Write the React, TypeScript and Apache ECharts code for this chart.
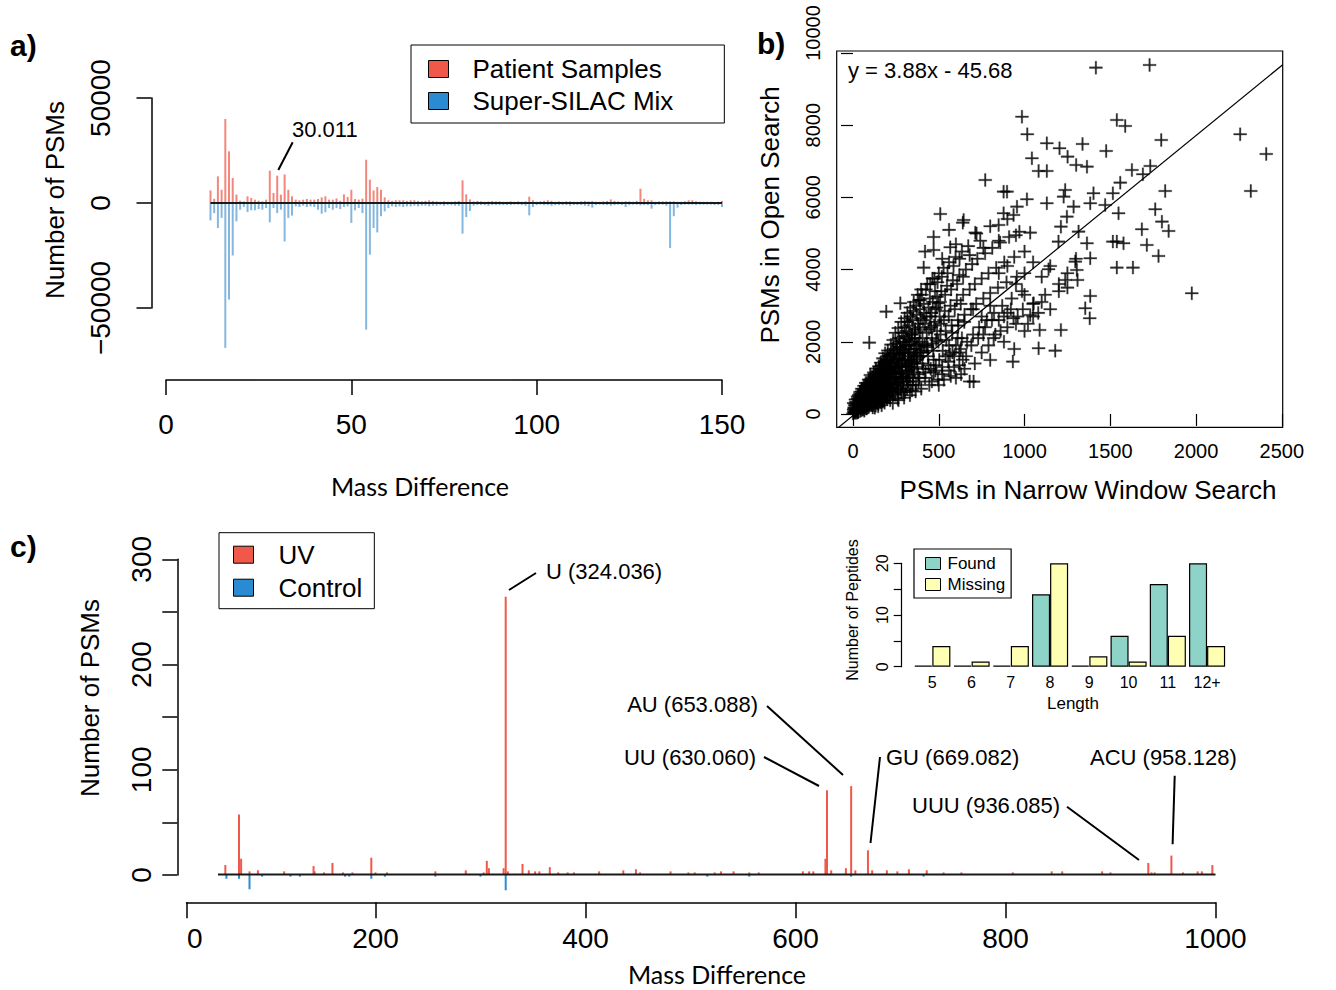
import React, { useEffect, useRef } from 'react';
import * as echarts from 'echarts';

const RED = '#F0584A';
const BLUE = '#2A8AD2';
const RED_LIGHT = '#F4877C';
const BLUE_LIGHT = '#85B7DE';
const TEAL = '#8DD3C7';
const YELLOW = '#FFFFB3';
const FONT = '"Liberation Sans", Arial, Helvetica, sans-serif';
const ALT_FONT = 'Lato, "Open Sans", sans-serif';

// ---------- Panel a: mass difference histogram (integer bins 12..150) ----------
const aFirstMass = 12;
const aPatient = [
  6000, 2000, 12700, 6300, 40000, 24600, 11900, 4000, 1100, 800,
  3200, 2400, 1600, 1100, 800, 1600, 15400, 4800, 13000, 4000,
  13600, 6300, 3200, 1600, 1300, 1600, 1900, 1600, 1600, 1900,
  2700, 3200, 1600, 1600, 2200, 1100, 4100, 2900, 6300, 1900,
  1600, 2100, 20600, 11100, 6000, 7600, 6300, 2700, 1300, 1000,
  1300, 1300, 1300, 1000, 1300, 1300, 1000, 800, 1000, 1300,
  1000, 800, 600, 800, 600, 600, 800, 1000, 10800, 4100,
  1700, 800, 1000, 800, 600, 800, 1000, 800, 800, 600,
  600, 800, 600, 800, 600, 800, 3000, 1300, 600, 800,
  1000, 1300, 1000, 600, 800, 600, 800, 800, 600, 600,
  800, 1000, 800, 1000, 600, 600, 800, 1000, 1700, 1000,
  800, 600, 800, 800, 600, 1000, 6800, 2000, 1300, 1300,
  600, 800, 800, 800, 800, 800, 600, 600, 800, 1300,
  1300, 800, 600, 600, 600, 600, 400, 600, 1000,
];
const aSilac = [
  -8300, -4800, -11900, -7100, -69000, -46000, -25000, -8700, -3200, -1900,
  -4300, -3500, -3500, -2900, -3200, -2400, -9200, -2400, -4800, -3200,
  -18300, -7100, -6000, -1600, -1900, -1300, -1900, -1600, -1900, -3200,
  -5100, -4400, -2400, -3200, -2400, -2900, -1900, -1600, -9500, -3500,
  -2400, -4800, -60300, -24600, -11900, -14000, -6300, -4000, -2400, -1600,
  -1900, -1600, -1900, -1600, -1600, -1300, -1600, -1300, -1300, -1600,
  -1300, -1300, -1000, -1300, -1000, -1000, -1300, -1300, -14600, -6700,
  -3800, -1300, -1000, -1000, -1000, -1300, -1000, -1000, -1000, -1000,
  -1000, -1000, -800, -800, -1000, -1300, -5900, -1900, -1000, -800,
  -1000, -1000, -1300, -1000, -1000, -1000, -1000, -1300, -1000, -1000,
  -1000, -1300, -1600, -2200, -1000, -800, -1000, -1000, -1300, -1000,
  -800, -1000, -1900, -1000, -800, -800, -1100, -1000, -1000, -2700,
  -1000, -800, -800, -1300, -21400, -6300, -2200, -1000, -800, -800,
  -800, -1000, -800, -800, -800, -800, -1000, -1000, -1900,
];
const aYTicks = [-50000, 0, 50000];
const aXTicks = [0, 50, 100, 150];

// ---------- Panel b: PSMs narrow vs open search ----------
const bFitSlope = 3.88;
const bFitIntercept = -45.68;
const bXTicks = [0, 500, 1000, 1500, 2000, 2500];
const bYTicks = [0, 2000, 4000, 6000, 8000, 10000];
const bPoints = [
  [0, 10], [5, 60], [8, 150], [12, 30], [15, 220], [18, 90], [22, 300], [25, 140], [28, 40], [32, 260],
  [35, 380], [38, 180], [42, 80], [45, 330], [48, 470], [52, 230], [55, 130], [58, 400], [62, 560], [65, 290],
  [68, 180], [72, 460], [75, 640], [78, 350], [82, 230], [85, 520], [88, 720], [92, 410], [95, 280], [98, 600],
  [102, 820], [105, 470], [108, 330], [112, 680], [115, 180], [118, 900], [122, 540], [125, 380], [128, 760], [132, 230],
  [135, 1000], [138, 620], [142, 430], [145, 850], [148, 280], [152, 1100], [155, 700], [158, 480], [162, 950], [165, 330],
  [168, 1250], [172, 780], [175, 540], [178, 1050], [182, 380], [185, 1380], [188, 860], [192, 600], [195, 1150], [198, 430],
  [202, 1500], [205, 950], [208, 660], [212, 1250], [215, 480], [218, 1650], [222, 1030], [225, 720], [228, 1350], [232, 300],
  [235, 1800], [238, 1120], [242, 800], [245, 1450], [248, 530], [252, 1950], [255, 1200], [258, 870], [262, 1550], [265, 380],
  [268, 2100], [272, 1300], [275, 950], [278, 1680], [282, 600], [285, 2250], [288, 1400], [292, 1030], [295, 1800], [298, 450],
  [302, 2400], [305, 1500], [308, 1100], [312, 1900], [315, 700], [318, 2550], [322, 1600], [325, 1200], [328, 2050], [332, 520],
  [335, 2700], [338, 1700], [342, 1300], [345, 2200], [348, 800], [352, 2850], [355, 1800], [358, 1400], [362, 2350], [365, 620],
  [368, 3000], [372, 1900], [375, 1500], [378, 2500], [382, 900], [385, 3150], [388, 2000], [392, 1600], [395, 2650], [398, 700],
  [402, 3300], [405, 2100], [410, 1700], [415, 2800], [420, 1000], [425, 3450], [430, 2250], [435, 1850], [440, 2950], [445, 800],
  [450, 3600], [455, 2400], [460, 1950], [465, 3100], [470, 1150], [475, 3750], [480, 2550], [485, 2050], [490, 3250], [495, 950],
  [500, 3900], [505, 2700], [510, 2200], [515, 3400], [520, 1300], [528, 4050], [535, 2850], [540, 2300], [548, 3550], [555, 1450],
  [560, 4200], [568, 3000], [575, 2450], [582, 3700], [590, 1600], [598, 4350], [605, 3150], [612, 2600], [620, 3850], [628, 1800],
  [635, 4500], [642, 3300], [650, 2750], [658, 4000], [665, 2000], [672, 4650], [680, 3450], [688, 2900], [695, 4150], [700, 2200],
  [710, 3600], [718, 3050], [725, 4300], [735, 2400], [742, 4800], [750, 3750], [760, 3200], [770, 4450], [780, 2600], [790, 3900],
  [800, 3350], [812, 4600], [822, 2800], [835, 4050], [845, 3500], [858, 4750], [870, 3000], [882, 4200], [895, 3650], [910, 4900],
  [925, 3200], [940, 4350], [955, 3800], [970, 5050], [985, 3400], [1000, 4500],
  [3, 120], [10, 250], [20, 30], [30, 200], [40, 350], [50, 100], [60, 420], [70, 300], [80, 150], [90, 500],
  [100, 380], [110, 250], [120, 650], [130, 480], [140, 320], [150, 800], [160, 600], [170, 420], [180, 950], [190, 720],
  [200, 500], [210, 1100], [220, 850], [230, 600], [240, 1300], [250, 1000], [260, 700], [270, 1500], [280, 1150], [290, 800],
  [300, 1700], [310, 1300], [320, 900], [330, 1900], [340, 1450], [350, 1000], [360, 2100], [370, 1600], [380, 1100], [390, 2300],
  [400, 1750], [410, 1250], [420, 2500], [430, 1900], [440, 1350], [450, 2700], [460, 2100], [470, 1500], [480, 2900], [490, 2300],
  [7, 180], [13, 95], [17, 340], [21, 160], [26, 420], [29, 75], [33, 520], [37, 250], [41, 610], [44, 190],
  [47, 380], [51, 700], [54, 290], [57, 560], [61, 130], [64, 780], [67, 420], [71, 230], [74, 860], [77, 530],
  [81, 310], [84, 690], [87, 180], [91, 950], [94, 600], [97, 400], [101, 1080], [104, 720], [107, 250], [111, 880],
  [114, 560], [117, 350], [121, 1150], [124, 830], [127, 170], [131, 640], [134, 1260], [137, 460], [141, 980], [144, 730],
  [147, 210], [151, 1320], [154, 560], [157, 900], [161, 1420], [164, 1080], [167, 240], [171, 680], [174, 1540], [177, 940],
  [181, 1230], [184, 310], [187, 1680], [191, 820], [194, 1040], [197, 1480],
  [203, 1760], [207, 1310], [211, 820], [214, 1590], [217, 380], [221, 1920], [224, 1170], [227, 1400], [231, 640], [234, 2050],
  [237, 980], [241, 1700], [244, 1260], [247, 2250], [251, 760], [254, 1520], [257, 1860], [261, 420], [264, 2380], [267, 1130],
  [271, 1640], [274, 2000], [277, 700], [281, 2550], [284, 1330], [287, 1780], [291, 900], [294, 2150], [297, 1480], [301, 2650],
  [304, 600], [307, 1900], [311, 2300], [314, 1200], [317, 2800], [321, 900], [324, 1700], [327, 2450], [331, 1050], [334, 2950],
  [337, 1400], [341, 2000], [344, 650], [347, 2600], [351, 1550], [354, 3100], [357, 1150], [361, 2250], [364, 1800], [367, 800],
  [371, 2750], [374, 1300], [377, 3300], [381, 1950], [384, 2400], [387, 1000], [391, 2900], [394, 1700], [397, 3450],
  [4, 300], [9, 40], [14, 400], [19, 260], [23, 120], [27, 480], [31, 60], [36, 300], [39, 550], [43, 160],
  [46, 260], [49, 620], [53, 380], [56, 200], [59, 690], [63, 340], [66, 90], [69, 560], [73, 760], [76, 150],
  [79, 420], [83, 820], [86, 350], [89, 600], [93, 200], [96, 880], [99, 500], [103, 300], [106, 960], [109, 620],
  [113, 420], [116, 1020], [119, 250], [123, 730], [126, 560], [129, 1100], [133, 380], [136, 800], [139, 300], [143, 1180],
  [146, 620], [149, 980], [153, 420], [156, 1250], [159, 760], [163, 560], [166, 1350], [169, 900], [173, 350], [176, 1200],
  [179, 640], [183, 1450], [186, 1000], [189, 480], [193, 1300], [196, 760], [199, 1600], [206, 1150], [213, 700], [219, 1420],
  [226, 900], [233, 1650], [239, 560], [246, 1100], [253, 1750], [259, 1300], [266, 850], [273, 1850], [279, 1000], [286, 1500],
  [293, 650], [299, 2000], [306, 1350], [313, 1000], [319, 2100], [326, 1500], [333, 800], [339, 2200], [346, 1250], [353, 1650],
  [404, 1400], [408, 2600], [413, 3050], [418, 1900], [423, 1150], [428, 2700], [433, 3600], [438, 1600], [443, 2350], [448, 3200],
  [453, 1250], [458, 2800], [463, 3750], [468, 1750], [473, 2450], [478, 3400], [483, 1350], [488, 2950], [493, 3650], [498, 2000],
  [503, 1500], [508, 3100], [513, 2500], [518, 3800], [523, 1750], [530, 2600], [537, 3300], [544, 2050], [551, 3900], [558, 2700],
  [565, 1650], [572, 3450], [579, 2250], [586, 4100], [593, 2900], [600, 1900], [607, 3600], [614, 2450], [621, 4300], [628, 3050],
  [635, 2100], [642, 3800], [649, 2550],
  [520, 1100], [540, 1600], [560, 1900], [590, 1300], [610, 2100], [630, 1100], [660, 1600], [690, 1900], [710, 1400], [730, 2100],
  [750, 1700], [770, 2400], [790, 1900], [810, 2600], [830, 2200], [860, 2300], [880, 2700], [900, 2400], [920, 2900], [960, 2700],
  [990, 2900], [1020, 2500], [1080, 2800], [1120, 3300], [460, 900], [480, 1200], [500, 800], [530, 950], [570, 1050], [620, 1700],
  [420, 4500], [470, 4900], [520, 4300], [560, 5100], [600, 4700], [640, 5300], [680, 4400], [720, 5000], [760, 4600], [800, 5200],
  [850, 4800], [900, 5400], [950, 4950], [850, 3900], [900, 4100], [950, 3600], [1000, 3900], [1050, 4200], [1100, 3800], [1150, 4100],
  [1200, 3600], [1250, 3900], [1300, 4300], [1000, 3300], [1100, 3100], [1150, 2900], [1050, 2700], [1200, 3400], [1250, 3500],
  [700, 2900], [750, 2700], [800, 3000], [850, 2600], [900, 2800], [950, 2500], [1000, 2300], [1050, 3050], [760, 2200], [820, 2100],
  [880, 2000], [940, 1800], [560, 1200], [600, 1000], [640, 1500], [680, 900], [620, 1350], [580, 1700], [650, 1250],
  [1416, 9594], [1729, 9668], [985, 8236], [1016, 7747], [1538, 8144], [1587, 7978], [2257, 7747], [1797, 7590], [1130, 7498], [1338, 7479],
  [1204, 7359], [1251, 7128], [1476, 7285], [1043, 7082], [1301, 6898], [1364, 6851], [1082, 6731], [1130, 6731], [2409, 7202], [1626, 6759],
  [1690, 6639], [1733, 6870], [1558, 6408], [771, 6482], [878, 6159], [898, 6159], [1014, 5946], [1130, 5836], [1237, 6205], [1228, 6020],
  [1402, 6113], [1515, 6113], [1820, 6177], [2319, 6177], [509, 5540], [645, 5374], [878, 5559], [956, 5743], [936, 5512], [1286, 5743],
  [1383, 5836], [1470, 5789], [1548, 5559], [1762, 5670], [1801, 5328], [1840, 5069], [1684, 5116], [1247, 5466], [1212, 5189], [1315, 5051],
  [1033, 5023], [1975, 3343], [1538, 4774], [1577, 4727], [1515, 4774], [1713, 4681], [1364, 4727], [1538, 4054], [1632, 4054], [1781, 4377],
  [1383, 4312], [1296, 4220], [1198, 4774], [1383, 3269], [1354, 2927], [1380, 2650], [1088, 2327], [1212, 2327], [1082, 1819], [1179, 1754],
  [932, 1450], [800, 1496], [703, 896], [95, 1976], [412, 4054], [470, 4543], [567, 4617], [713, 5023], [849, 5235], [194, 2835],
  [276, 3066], [392, 3158], [499, 3066], [1309, 3712], [1305, 3989], [1237, 3712], [1140, 4007], [1053, 3066], [1033, 2742], [936, 2650],
];

// ---------- Panel c: UV crosslink mass differences ----------
const cMassRange = [50, 1000];
const cUVMass = [
  57, 70, 72, 80, 88, 113, 141, 142, 151, 159, 169, 178, 196, 200, 211, 257, 286, 303, 306, 308,
  322, 324, 326, 340, 346, 352, 356, 366, 374, 383, 389, 413, 436, 448, 452, 481, 498, 504, 523, 529,
  541, 556, 565, 607, 613, 617, 628.5, 630, 634, 648, 653, 657, 669, 673, 687, 697, 708, 725, 741, 758,
  807, 844, 854, 892, 900, 936, 939, 942, 958, 969, 983, 987, 997,
];
const cUVCount = [
  9, 57, 15, 3, 4, 3, 8, 3, 2, 11, 2, 2, 16, 2, 2, 3, 4, 2, 13, 6,
  6, 264, 3, 10, 4, 3, 3, 7, 2, 2, 2, 3, 4, 5, 2, 3, 2, 2, 2, 3,
  3, 2, 2, 3, 3, 3, 15, 80, 4, 6, 84, 4, 23, 4, 4, 3, 5, 4, 2, 2,
  2, 3, 3, 3, 2, 11, 2, 2, 18, 2, 3, 3, 9,
];
const cCtrlMass = [58, 70, 80, 92, 119, 128, 171, 175, 196, 209, 257, 300, 324, 516, 556, 653, 722];
const cCtrlCount = [-4, -4, -14, -2, -2, -2, -2, -2, -4, -2, -2, -2, -15, -2, -2, -2, -2];
const cXTicks = [20, 200, 400, 600, 800, 1000];
const cXLabelAt = [28, 200, 400, 600, 800, 1000];

// ---------- Inset: peptide lengths ----------
const insetLengths = ['5', '6', '7', '8', '9', '10', '11', '12+'];
const insetFound = [0, 0, 0, 14, 0, 6, 16, 20];
const insetMissing = [4, 1, 4, 20, 2, 1, 6, 4];

const PLUS = 'path://M0,4.4H10V5.6H0Z M4.4,0H5.6V10H4.4Z';

const axLine = (w = 1.5) => ({ show: true, lineStyle: { color: '#000', width: w } });
const axTick = (len: number, w = 1.5, extra: any = {}) => ({ show: true, length: len, lineStyle: { color: '#000', width: w }, ...extra });
const hidden = (gridIndex: number, min: number, max: number) => ({ gridIndex, type: 'value', show: false, min, max });

const txt = (text: string, x: number, y: number, size: number, opts: any = {}) => ({
  type: 'text',
  x,
  y,
  rotation: opts.rot ? Math.PI / 2 : 0,
  z: 100,
  style: {
    text,
    fill: '#000',
    fontSize: size,
    fontFamily: opts.font || FONT,
    fontWeight: opts.bold ? 'bold' : 'normal',
    align: opts.align || 'center',
    verticalAlign: 'middle',
  },
});
const seg = (x1: number, y1: number, x2: number, y2: number) => ({
  type: 'line',
  z: 100,
  shape: { x1, y1, x2, y2 },
  style: { stroke: '#000', lineWidth: 2 },
});

export default function App() {
  const ref = useRef<HTMLDivElement>(null);
  useEffect(() => {
    if (!ref.current) return;
    const chart = echarts.init(ref.current, undefined, { renderer: 'svg' });
    const fit = (x: number) => bFitSlope * x + bFitIntercept;
    const option: any = {
      animation: false,
      backgroundColor: '#fff',
      textStyle: { fontFamily: FONT },
      grid: [
        { left: 166, top: 108.5, width: 556, height: 252 },
        { left: 151.5, top: 98, width: 10, height: 210 },
        { left: 166, top: 370, width: 556, height: 10 },
        { left: 836.7, top: 51, width: 446, height: 376.3, show: true, borderColor: '#000', borderWidth: 1.2, backgroundColor: 'transparent' },
        { left: 165.5, top: 558.8, width: 1050, height: 347.3 },
        { left: 177.3, top: 559.3, width: 10, height: 315.7 },
        { left: 186.5, top: 892.3, width: 1029, height: 10 },
        { left: 912.7, top: 563.3, width: 314, height: 103.4 },
        { left: 901.7, top: 563.3, width: 10, height: 103.4 },
      ],
      xAxis: [
        hidden(0, 0, 150),
        hidden(1, 0, 1),
        {
          gridIndex: 2, type: 'value', min: aXTicks[0], max: aXTicks[aXTicks.length - 1], interval: 50, position: 'bottom',
          axisLine: axLine(), axisTick: axTick(15), splitLine: { show: false },
          axisLabel: { fontSize: 28, color: '#000', margin: 30, fontFamily: FONT },
        },
        {
          gridIndex: 3, type: 'value', min: -95, max: 2505, axisLine: { show: false },
          axisTick: axTick(12, 1.2, { customValues: bXTicks }), splitLine: { show: false },
          axisLabel: { customValues: bXTicks, fontSize: 20, color: '#000', margin: 14, fontFamily: FONT, formatter: (v: number) => String(v) },
        },
        hidden(4, 0, 1000),
        hidden(5, 0, 1),
        {
          gridIndex: 6, type: 'value', min: 20, max: 1000, position: 'bottom',
          axisLine: axLine(), axisTick: axTick(16, 1.5, { customValues: cXTicks }), splitLine: { show: false },
          axisLabel: {
            customValues: cXLabelAt, fontSize: 28, color: '#000', margin: 22, fontFamily: FONT,
            formatter: (v: number) => (v < 100 ? '0' : String(v)),
          },
        },
        {
          gridIndex: 7, type: 'category', data: insetLengths,
          axisLine: { show: false }, axisTick: { show: false },
          axisLabel: { fontSize: 16, color: '#000', margin: 8, fontFamily: FONT, interval: 0 },
        },
        hidden(8, 0, 1),
      ],
      yAxis: [
        hidden(0, -75000, 45000),
        {
          gridIndex: 1, type: 'value', min: aYTicks[0], max: aYTicks[2], interval: 50000, position: 'left',
          axisLine: axLine(), axisTick: axTick(15), splitLine: { show: false },
          axisLabel: {
            rotate: 90, fontSize: 28, color: '#000', margin: 37, fontFamily: FONT,
            formatter: (v: number) => (v < 0 ? '\u2212' + Math.abs(v) : String(v)),
          },
        },
        hidden(2, 0, 1),
        {
          gridIndex: 3, type: 'value', min: -370, max: 10055, axisLine: { show: false },
          axisTick: axTick(12, 1.2, { customValues: bYTicks }), splitLine: { show: false },
          axisLabel: {
            customValues: bYTicks, rotate: 90, fontSize: 20, color: '#000', margin: 14, fontFamily: FONT,
            formatter: (v: number) => (v === 10000 ? '{top|10000}' : String(v)),
            rich: { top: { fontSize: 20, fontFamily: FONT, color: '#000', padding: [0, 0, 0, 40] } },
          },
        },
        hidden(4, -30, 300),
        {
          gridIndex: 5, type: 'value', min: 0, max: 300, interval: 50, position: 'left',
          axisLine: axLine(), axisTick: axTick(15), splitLine: { show: false },
          axisLabel: {
            rotate: 90, fontSize: 28, color: '#000', margin: 22, fontFamily: FONT,
            formatter: (v: number) => (v % 100 === 0 ? String(v) : ''),
          },
        },
        hidden(6, 0, 1),
        hidden(7, 0, 20),
        {
          gridIndex: 8, type: 'value', min: 0, max: 20, interval: 5, position: 'left',
          axisLine: axLine(1.2), axisTick: axTick(8, 1.2), splitLine: { show: false },
          axisLabel: {
            rotate: 90, fontSize: 16, color: '#000', margin: 11, fontFamily: FONT,
            formatter: (v: number) => (v % 10 === 0 ? String(v) : ''),
          },
        },
      ],
      legend: [
        {
          data: [
            { name: 'Patient Samples', itemStyle: { color: RED } },
            { name: 'Super-SILAC Mix', itemStyle: { color: BLUE } },
          ],
          left: 411, top: 45, orient: 'vertical', icon: 'rect', itemWidth: 20, itemHeight: 17, itemGap: 6,
          padding: [11, 51, 9, 17], borderColor: '#000', borderWidth: 1, selectedMode: false,
          itemStyle: { borderColor: '#000', borderWidth: 1 },
          textStyle: { fontSize: 26, color: '#000', fontFamily: FONT, padding: [0, 0, 0, 19] },
        },
        {
          data: [
            { name: 'UV', itemStyle: { color: RED } },
            { name: 'Control', itemStyle: { color: BLUE } },
          ],
          left: 219, top: 532.7, orient: 'vertical', icon: 'rect', itemWidth: 20, itemHeight: 17, itemGap: 7,
          padding: [9, 12, 8, 14], borderColor: '#000', borderWidth: 1, selectedMode: false,
          itemStyle: { borderColor: '#000', borderWidth: 1 },
          textStyle: { fontSize: 26, color: '#000', fontFamily: FONT, padding: [0, 0, 0, 20] },
        },
        {
          data: ['Found', 'Missing'],
          left: 914, top: 549, orient: 'vertical', icon: 'rect', itemWidth: 15, itemHeight: 12, itemGap: 4,
          padding: [6, 6, 5, 11], borderColor: '#000', borderWidth: 1.2, selectedMode: false,
          itemStyle: { borderColor: '#000', borderWidth: 1 },
          textStyle: { fontSize: 17, color: '#000', fontFamily: FONT, padding: [0, 0, 0, 2] },
        },
      ],
      series: [
        {
          name: 'Patient Samples', type: 'bar', xAxisIndex: 0, yAxisIndex: 0, barWidth: 2, barGap: '-100%',
          data: aPatient.map((v, i) => [aFirstMass + i, v]), itemStyle: { color: RED_LIGHT }, silent: true,
        },
        {
          name: 'Super-SILAC Mix', type: 'bar', xAxisIndex: 0, yAxisIndex: 0, barWidth: 2, barGap: '-100%',
          data: aSilac.map((v, i) => [aFirstMass + i, v]), itemStyle: { color: BLUE_LIGHT }, silent: true,
        },
        {
          type: 'line', xAxisIndex: 0, yAxisIndex: 0, symbol: 'none', z: 5, silent: true,
          data: [[aFirstMass, 0], [aFirstMass + aPatient.length - 1, 0]],
          lineStyle: { color: '#1a1a1a', width: 2 },
        },
        {
          name: 'PSMs', type: 'scatter', xAxisIndex: 3, yAxisIndex: 3, symbol: PLUS, symbolSize: 13,
          data: bPoints, itemStyle: { color: '#000', borderColor: '#000', borderWidth: 0.3 }, silent: true,
        },
        {
          type: 'line', xAxisIndex: 3, yAxisIndex: 3, symbol: 'none', clip: true, silent: true,
          data: [[-95, fit(-95)], [2505, fit(2505)]], lineStyle: { color: '#000', width: 1.2 },
        },
        {
          name: 'UV', type: 'bar', xAxisIndex: 4, yAxisIndex: 4, barWidth: 2, barGap: '-100%',
          data: cUVMass.map((m, i) => [m, cUVCount[i]]), itemStyle: { color: RED }, silent: true,
        },
        {
          name: 'Control', type: 'bar', xAxisIndex: 4, yAxisIndex: 4, barWidth: 2, barGap: '-100%',
          data: cCtrlMass.map((m, i) => [m, cCtrlCount[i]]), itemStyle: { color: BLUE }, silent: true,
        },
        {
          type: 'line', xAxisIndex: 4, yAxisIndex: 4, symbol: 'none', z: 5, silent: true,
          data: [[cMassRange[0], 0], [cMassRange[1], 0]], lineStyle: { color: '#1a1a1a', width: 2 },
        },
        {
          name: 'Found', type: 'bar', xAxisIndex: 7, yAxisIndex: 7, data: insetFound, barGap: '0%', barCategoryGap: '8%',
          barMinHeight: 1, itemStyle: { color: TEAL, borderColor: '#000', borderWidth: 1.2 }, silent: true,
        },
        {
          name: 'Missing', type: 'bar', xAxisIndex: 7, yAxisIndex: 7, data: insetMissing, barGap: '0%', barCategoryGap: '8%',
          barMinHeight: 1, itemStyle: { color: YELLOW, borderColor: '#000', borderWidth: 1.2 }, silent: true,
        },
      ],
      graphic: [
        txt('a)', 10, 45, 30, { bold: true, align: 'left' }),
        txt('b)', 757, 43, 30, { bold: true, align: 'left' }),
        txt('c)', 10, 546, 30, { bold: true, align: 'left' }),
        txt('Number of PSMs', 55, 200, 26, { rot: true }),
        txt('Mass Difference', 420, 486, 25, { font: ALT_FONT }),
        txt('PSMs in Open Search', 770, 215, 26, { rot: true }),
        txt('PSMs in Narrow Window Search', 1088, 490, 26),
        txt('Number of PSMs', 90, 698, 26, { rot: true }),
        txt('Mass Difference', 717, 974, 25, { font: ALT_FONT }),
        txt('Number of Peptides', 852, 610, 16, { rot: true }),
        txt('Length', 1073, 703, 17),
        txt('30.011', 292, 129, 22, { align: 'left' }),
        txt('y = 3.88x - 45.68', 848, 70, 22, { align: 'left' }),
        txt('U (324.036)', 546, 571, 22, { align: 'left' }),
        txt('AU (653.088)', 758, 704, 22, { align: 'right' }),
        txt('UU (630.060)', 756, 757, 22, { align: 'right' }),
        txt('GU (669.082)', 886, 757, 22, { align: 'left' }),
        txt('UUU (936.085)', 1060, 805, 22, { align: 'right' }),
        txt('ACU (958.128)', 1090, 757, 22, { align: 'left' }),
        seg(292.7, 142.3, 278.3, 170),
        seg(509, 590, 536, 573),
        seg(767, 706, 843, 775),
        seg(764, 757, 819, 786),
        seg(880, 757, 870.5, 843),
        seg(1067, 806.7, 1139, 860),
        seg(1174.7, 775.7, 1172.6, 844.3),
      ],
    };
    chart.setOption(option);
    return () => chart.dispose();
  }, []);
  return <div ref={ref} style={{ position: 'fixed', left: 0, top: 0, width: 1336, height: 990, background: '#fff' }} />;
}
